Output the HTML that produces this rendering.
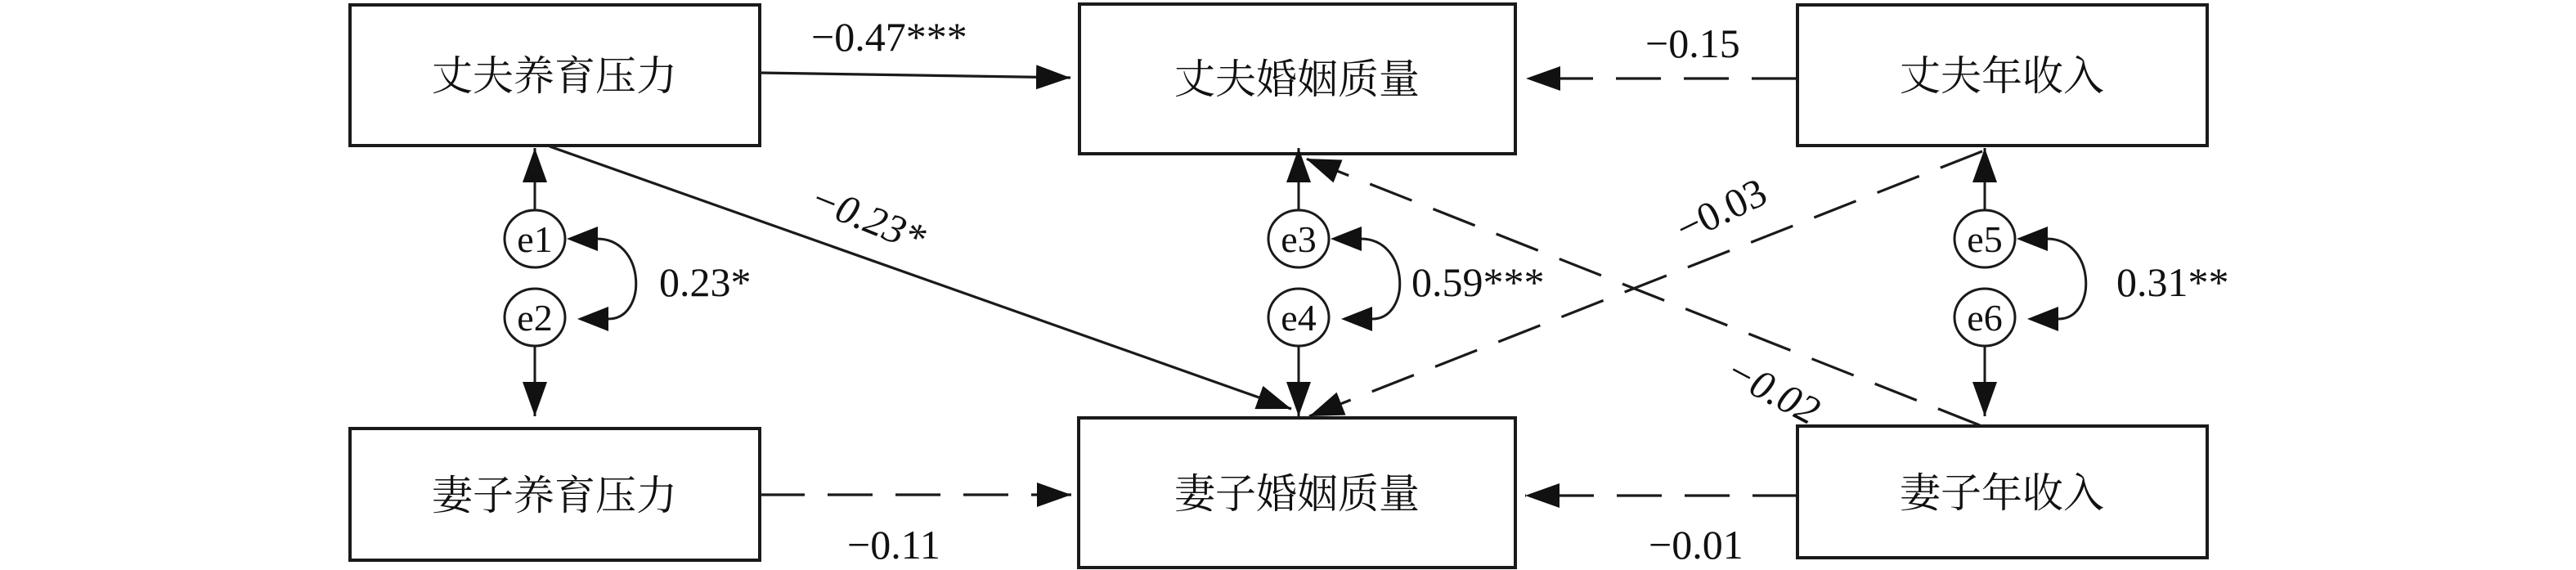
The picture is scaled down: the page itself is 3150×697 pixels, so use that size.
<!DOCTYPE html>
<html><head><meta charset="utf-8"><style>
html,body{margin:0;padding:0;background:#fff;}
svg{display:block}
.cn{font-family:"Liberation Serif","Noto Serif CJK SC",serif;font-size:50px;fill:#111;}
.n{font-family:"Liberation Serif",serif;font-size:50px;fill:#111;}
.e{font-family:"Liberation Serif",serif;font-size:46px;fill:#111;}
</style></head><body>
<svg width="3150" height="697" viewBox="0 0 3150 697" xmlns="http://www.w3.org/2000/svg">
<defs>
<marker id="a" viewBox="0 0 42 30" refX="42" refY="15" markerWidth="42" markerHeight="30" orient="auto" markerUnits="userSpaceOnUse"><path d="M0,0 L42,15 L0,30 z" fill="#111"/></marker>
</defs>
<g fill="none" stroke="#1a1a1a" stroke-width="4">
<rect x="428" y="6" width="501" height="172"/>
<rect x="1320" y="5" width="533" height="183"/>
<rect x="2198" y="6" width="501" height="172"/>
<rect x="428" y="524" width="501" height="161"/>
<rect x="1319" y="511" width="534" height="183"/>
<rect x="2198" y="521" width="501" height="161"/>
</g>
<g text-anchor="middle" class="cn">
<text x="678" y="110">丈夫养育压力</text>
<text x="1586" y="114">丈夫婚姻质量</text>
<text x="2448" y="110">丈夫年收入</text>
<text x="678" y="623">妻子养育压力</text>
<text x="1586" y="621">妻子婚姻质量</text>
<text x="2448" y="620">妻子年收入</text>
</g>
<g stroke="#1a1a1a" stroke-width="3.2" fill="none">
<line x1="929" y1="89" x2="1309" y2="95" marker-end="url(#a)"/>
<line x1="672" y1="179" x2="1579" y2="500" marker-end="url(#a)"/>
<g stroke-dasharray="55 28">
<line x1="929" y1="605" x2="1310" y2="605" marker-end="url(#a)"/>
<line x1="2197" y1="96" x2="1866" y2="96" marker-end="url(#a)"/>
<line x1="2198" y1="606" x2="1865" y2="606" marker-end="url(#a)"/>
<line x1="2421" y1="520" x2="1597" y2="194" marker-end="url(#a)"/>
<line x1="2424" y1="185" x2="1601" y2="509" marker-end="url(#a)"/>
</g>
</g>
<!-- error terms -->
<g id="eg">
<g stroke="#1a1a1a" stroke-width="3" fill="none">
<line x1="654" y1="257" x2="654" y2="181" marker-end="url(#a)"/>
<line x1="654" y1="423" x2="654" y2="509" marker-end="url(#a)"/>
<ellipse cx="654" cy="292" rx="37" ry="35" fill="#fff"/>
<ellipse cx="654" cy="388" rx="37" ry="35" fill="#fff"/>
<path d="M730,292 C790,292 792,390 744,390"/>
</g>
<polygon points="693,292 731,277 731,307" fill="#111"/>
<polygon points="706,390 744,375 744,405" fill="#111"/>
</g>
<use href="#eg" transform="translate(934,0)"/>
<use href="#eg" transform="translate(1773,0)"/>
<g class="e" text-anchor="middle">
<text x="654" y="308">e1</text><text x="654" y="404">e2</text>
<text x="1588" y="308">e3</text><text x="1588" y="404">e4</text>
<text x="2427" y="308">e5</text><text x="2427" y="404">e6</text>
</g>
<g class="n">
<text x="992" y="62">−0.47***</text>
<text x="2012" y="70">−0.15</text>
<text x="806" y="362">0.23*</text>
<text x="1726" y="362">0.59***</text>
<text x="2588" y="362">0.31**</text>
<text x="1036" y="683">−0.11</text>
<text x="2016" y="683">−0.01</text>
<text text-anchor="middle" transform="translate(1055,282) rotate(22)" font-style="italic">−0.23*</text>
<text text-anchor="middle" transform="translate(2112,272) rotate(-26)">−0.03</text>
<text text-anchor="middle" transform="translate(2160,492) rotate(28)" font-style="italic">−0.02</text>
</g>
</svg>
</body></html>
